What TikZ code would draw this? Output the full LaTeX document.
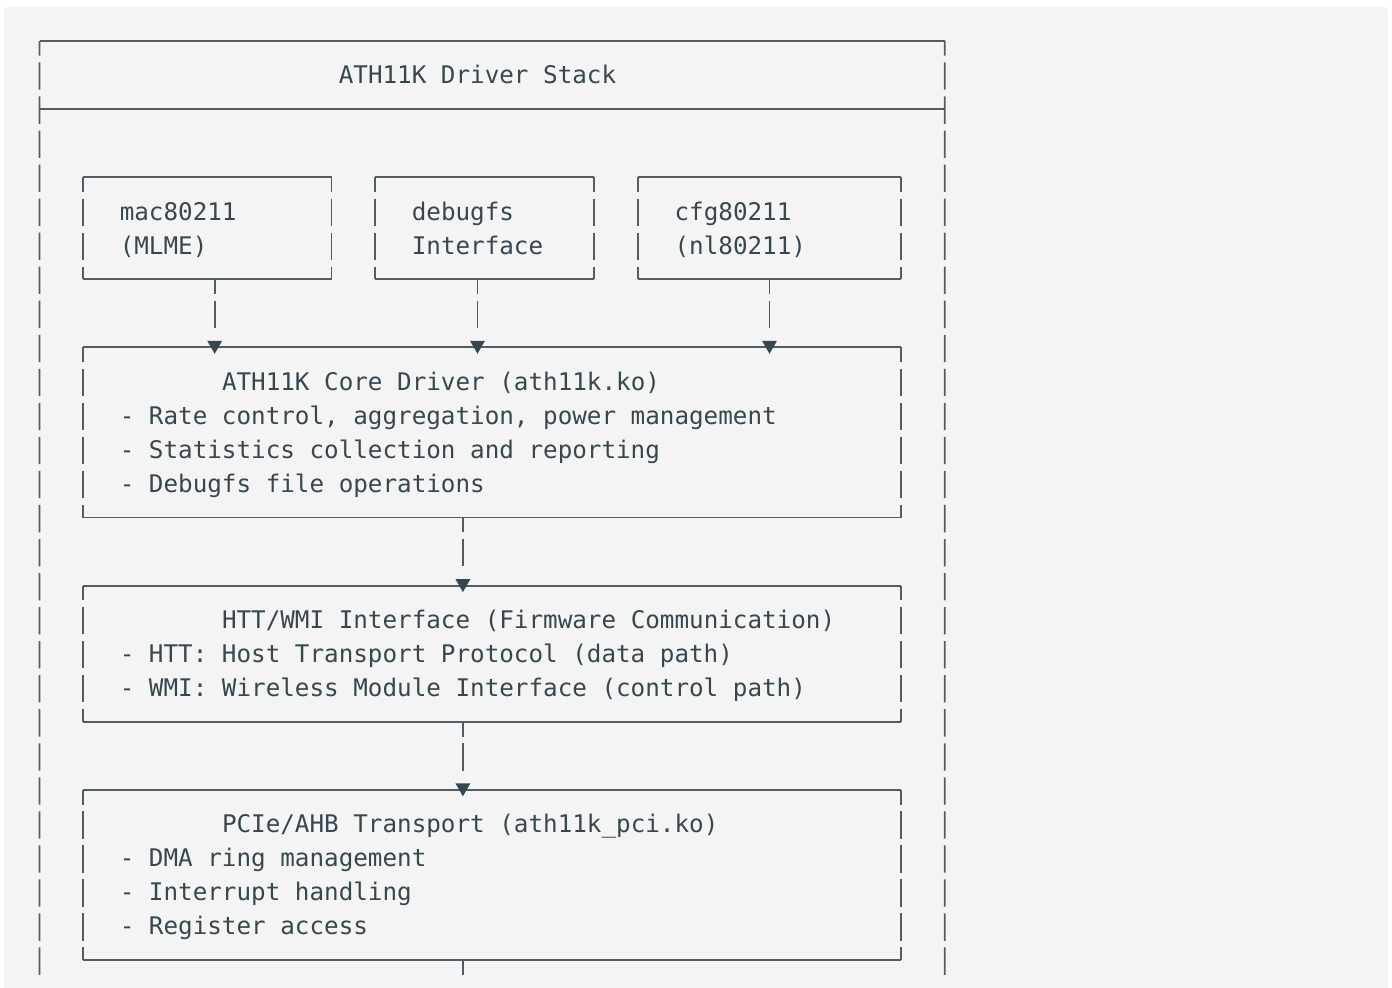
\documentclass[tikz,border=0pt]{standalone}
\usepackage{fontspec}
\usetikzlibrary{positioning}
\newfontfamily\asciifont{DejaVu Sans Mono}[WordSpace={1,0,0}]
\definecolor{pagegray}{HTML}{F4F4F4}
\definecolor{linegray}{HTML}{505D65}
\definecolor{textgray}{HTML}{37474F}

\DeclareRobustCommand{\asciisize}{\asciifont\fontsize{24.25pt}{34.04pt}\selectfont}
% one text row of the grid
\newcommand{\ascrow}{\rule[-8.17pt]{0pt}{34.04pt}}
% frame of a box: solid top/bottom, broken sides
\newcommand{\asciiframe}[1]{%
    \draw[hline] (#1.north west) -- (#1.north east);
    \draw[hline] (#1.south west) -- (#1.south east);
    \draw[vline] (#1.north west) -- (#1.south west);
    \draw[vline] (#1.north east) -- (#1.south east);}
% arrow head sitting on a line
\newcommand{\downtip}[1]{%
    \fill[textgray] (#1) ++(-7.5pt,6.6pt) -- ++(15pt,0pt) -- ++(-7.5pt,-13pt) -- cycle;}

\begin{document}
\begin{tikzpicture}[
        x=14.6pt, y=-34.04pt,
        node distance=68.08pt and 43.8pt,
        asciibox/.style={inner xsep=36.5pt, inner ysep=0pt, outer sep=0pt, align=left, text=textgray, font=\asciisize,
            execute at begin node={\frenchspacing\spaceskip=14.6pt\relax\xspaceskip=14.6pt\relax}},
        hline/.style={draw=linegray, line width=1.8pt},
        vline/.style={draw=linegray, line width=1.8pt, dash pattern=on 27.3pt off 6.74pt, dash phase=12.6pt},
    ]

    \useasboundingbox (-2.7055,-1.2045) rectangle (92.637,27.791);
    \clip (-2.7055,-1.2045) rectangle (92.637,27.791);
    \fill[pagegray, rounded corners=4pt] (-2.4315,-1.0135) rectangle (92.329,28.5);

    % ===== Outer stack =====
    \node[asciibox, text width=306.6pt, inner xsep=299.3pt, minimum height=68.08pt] (stack) at (31,1)
        {\ascrow ATH11K Driver Stack};
    \coordinate (stackEndL) at (0,27.432);
    \coordinate (stackEndR) at (62,27.432);

    % ===== Upper layer =====
    \node[asciibox, text width=175.2pt, minimum height=102.12pt, below right=of stack.south west] (mac)
        {\ascrow mac80211\\\ascrow (MLME)};
    \node[asciibox, text width=146pt, minimum height=102.12pt, right=of mac] (debugfs)
        {\ascrow debugfs\\\ascrow Interface};
    \node[asciibox, text width=189.8pt, minimum height=102.12pt, right=of debugfs] (cfg)
        {\ascrow cfg80211\\\ascrow (nl80211)};

    % ===== Driver layers =====
    \node[asciibox, text width=744.6pt, minimum height=170.2pt, below=of mac.south west, anchor=north west] (core)
        {\ascrow\hspace*{102.2pt}ATH11K Core Driver (ath11k.ko)\\
         \ascrow - Rate control, aggregation, power management\\
         \ascrow - Statistics collection and reporting\\
         \ascrow - Debugfs file operations};
    \node[asciibox, text width=744.6pt, minimum height=136.16pt, below=of core] (htt)
        {\ascrow\hspace*{102.2pt}HTT/WMI Interface (Firmware Communication)\\
         \ascrow - HTT: Host Transport Protocol (data path)\\
         \ascrow - WMI: Wireless Module Interface (control path)};
    \node[asciibox, text width=744.6pt, minimum height=170.2pt, below=of htt] (pcie)
        {\ascrow\hspace*{102.2pt}PCIe/AHB Transport (ath11k\_pci.ko)\\
         \ascrow - DMA ring management\\
         \ascrow - Interrupt handling\\
         \ascrow - Register access};
    \coordinate (pcieOut) at (29,27.432);

    % ===== Frames =====
    \draw[hline] (stack.north west) -- (stack.north east);
    \draw[hline] (stack.south west) -- (stack.south east);
    \draw[vline] (stack.north west) -- (stackEndL);
    \draw[vline] (stack.north east) -- (stackEndR);
    \foreach \b in {mac, debugfs, cfg, core, htt, pcie} {\asciiframe{\b}}

    % ===== Connectors =====
    \draw[vline, shorten >=19.34pt] (12,0 |- mac.south) -- (12,0 |- core.north);
    \downtip{12,0 |- core.north}
    \draw[vline, shorten >=19.34pt] (30,0 |- debugfs.south) -- (30,0 |- core.north);
    \downtip{30,0 |- core.north}
    \draw[vline, shorten >=19.34pt] (50,0 |- cfg.south) -- (50,0 |- core.north);
    \downtip{50,0 |- core.north}
    \draw[vline, shorten >=19.34pt] (29,0 |- core.south) -- (29,0 |- htt.north);
    \downtip{29,0 |- htt.north}
    \draw[vline, shorten >=19.34pt] (29,0 |- htt.south) -- (29,0 |- pcie.north);
    \downtip{29,0 |- pcie.north}
    \draw[vline] (29,0 |- pcie.south) -- (pcieOut);

\end{tikzpicture}
\end{document}
